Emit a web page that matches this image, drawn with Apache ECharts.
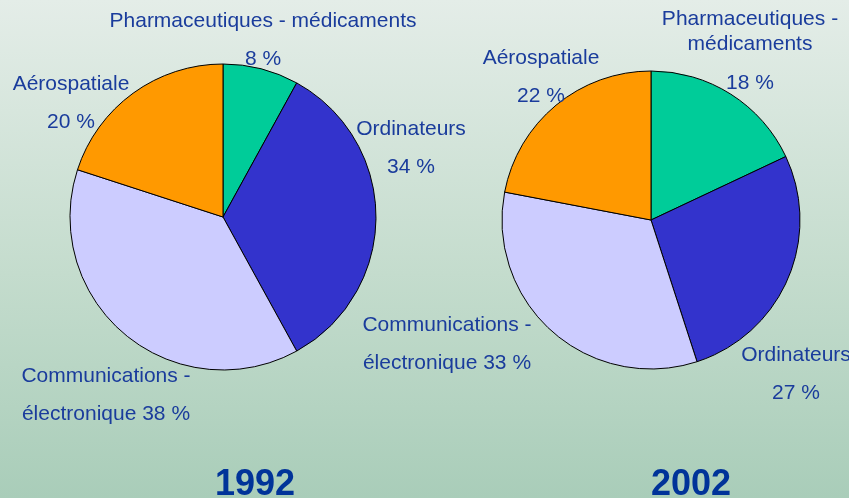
<!DOCTYPE html>
<html>
<head>
<meta charset="utf-8">
<script src="https://cdn.jsdelivr.net/npm/echarts@6/dist/echarts.min.js"></script>
<style>
html, body { margin: 0; padding: 0; }
#chart {
    width: 849px;
    height: 498px;
    background: linear-gradient(to bottom, #e4ede8 0%, #c4dccd 55%, #a9cdb9 100%);
}
</style>
</head>
<body>
<div id="chart"></div>
<script>
// données
var categories = ['Pharmaceutiques - médicaments', 'Ordinateurs', 'Communications - électronique', 'Aérospatiale'];
var years = ['1992', '2002'];
var values1992 = [8, 34, 38, 20];
var values2002 = [18, 27, 33, 22];
var sliceColors = ['#00cc99', '#3333cc', '#ccccff', '#ff9900'];

// texte des étiquettes (retours à la ligne comme sur l'original)
var labelText1992 = ['Pharmaceutiques - médicaments\n8 %', 'Ordinateurs\n34 %', 'Communications -\nélectronique 38 %', 'Aérospatiale\n20 %'];
var labelText2002 = ['{s|Pharmaceutiques -}\n{s|médicaments}\n{p|18 %}', 'Ordinateurs\n27 %', 'Communications -\nélectronique 33 %', 'Aérospatiale\n22 %'];

var chart = echarts.init(document.getElementById('chart'));

function buildData(values, texts) {
    return categories.map(function (name, i) {
        return {
            name: name,
            value: values[i],
            itemStyle: { color: sliceColors[i] },
            label: { formatter: texts[i] }
        };
    });
}

// positions des étiquettes, à la main
var labelPos = [
    [[263, 40], [411, 148], [106, 395], [71, 103]],
    [[750, 58], [796, 374], [447, 344], [541, 77]]
];

var labelFont = 'Liberation Sans, Arial, sans-serif';

function pieSeries(idx, center, radius, values, texts) {
    return {
        name: years[idx],
        type: 'pie',
        center: center,
        radius: radius,
        startAngle: 90,
        clockwise: true,
        silent: true,
        itemStyle: { borderColor: '#000', borderWidth: 1 },
        label: {
            show: true,
            position: 'outside',
            overflow: 'none',
            color: '#1a3c9c',
            fontFamily: labelFont,
            fontSize: 21,
            lineHeight: 38,
            align: 'center',
            rich: {
                s: { color: '#1a3c9c', fontSize: 21, lineHeight: 25, fontFamily: labelFont },
                p: { color: '#1a3c9c', fontSize: 21, lineHeight: 53, fontFamily: labelFont }
            }
        },
        labelLine: { show: false },
        labelLayout: function (params) {
            var p = labelPos[idx][params.dataIndex];
            return { x: p[0], y: p[1], align: 'center', verticalAlign: 'middle' };
        },
        data: buildData(values, texts)
    };
}

var titleStyle = { color: '#003399', fontSize: 36, fontWeight: 'bold', fontFamily: labelFont };

var option = {
    animation: false,
    title: [
        { text: years[0], left: 250, top: 462, textAlign: 'center', textStyle: titleStyle },
        { text: years[1], left: 686, top: 462, textAlign: 'center', textStyle: titleStyle }
    ],
    series: [
        pieSeries(0, [223, 217], 153, values1992, labelText1992),
        pieSeries(1, [651, 220], 149, values2002, labelText2002)
    ]
};

chart.setOption(option);
</script>
</body>
</html>
